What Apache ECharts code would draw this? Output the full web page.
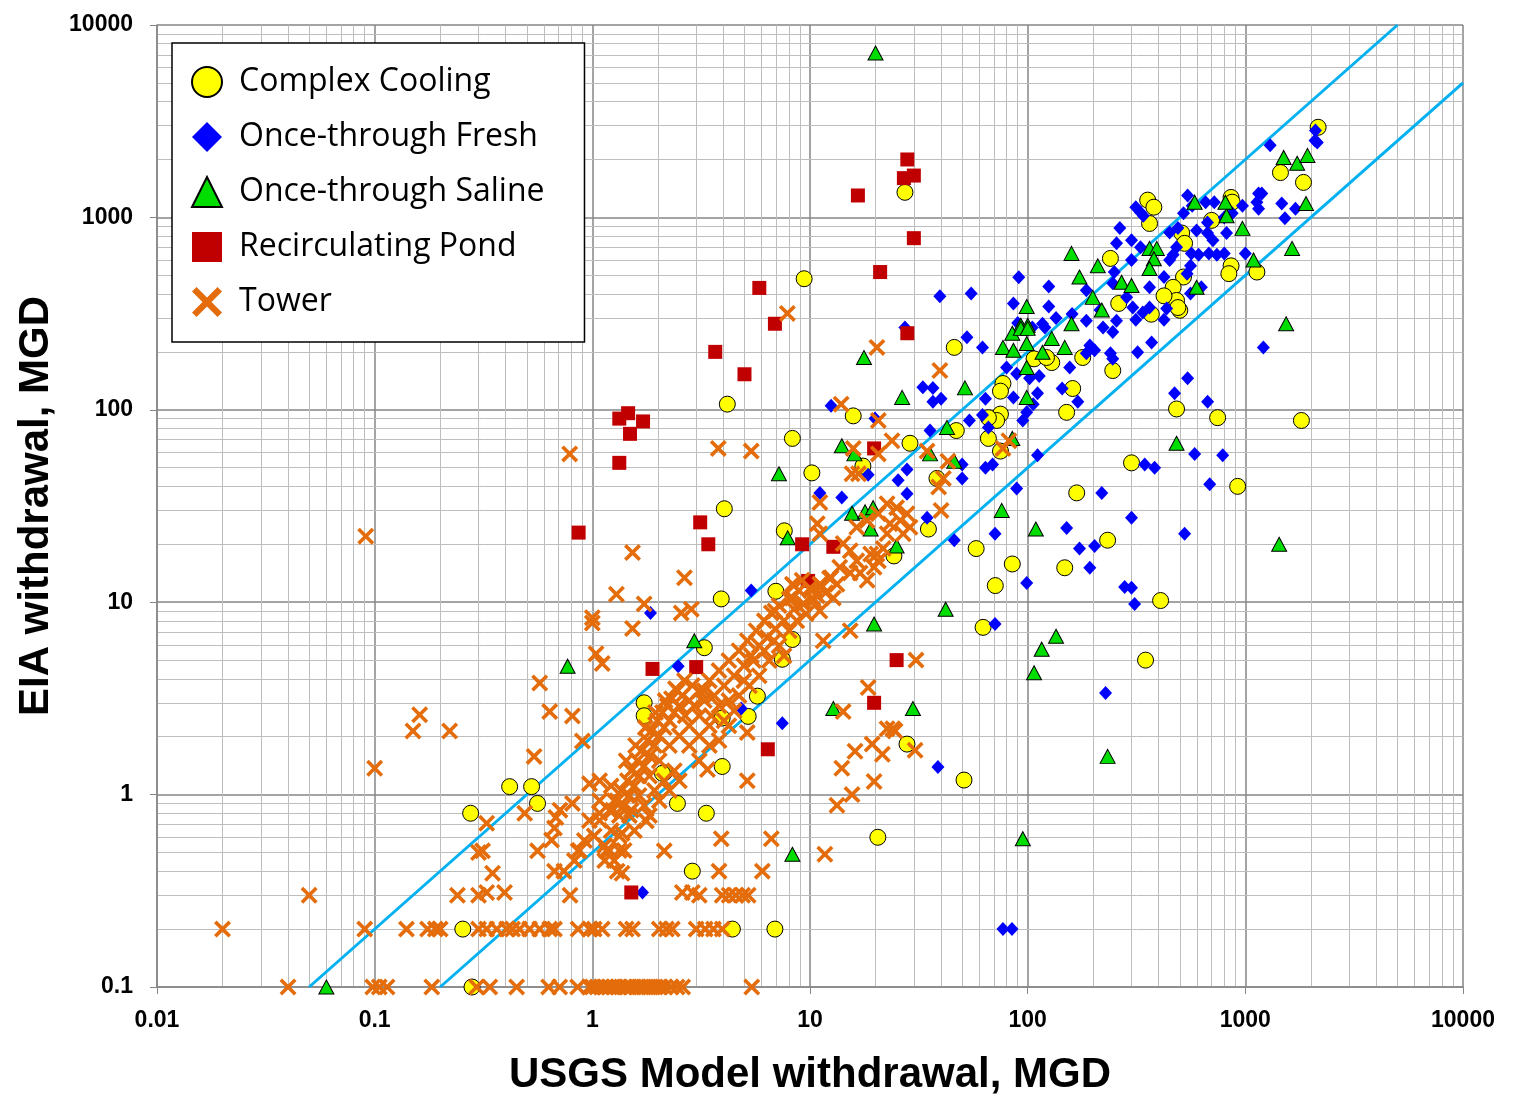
<!DOCTYPE html>
<html><head><meta charset="utf-8">
<script src="https://cdn.jsdelivr.net/npm/echarts@6/dist/echarts.min.js"></script>
<style>html,body{margin:0;padding:0;background:#fff}#c{width:1519px;height:1110px}</style>
</head><body><div id="c"></div>
<script>
// ---- data (x = USGS model withdrawal, y = EIA withdrawal, MGD) ----
const complexCooling = [
[9.4,480],[27.3,1350],[4.17,107],[8.3,71],[4.04,30.6],[7.62,23.5],[3.91,10.4],[6.97,11.4],
[10.2,47],[15.8,93],[17.5,51],[28.8,67],[38.3,44],[46,211],[35,24],[58,19],[85,15.8],[71,12.2],
[168,37],[233,21],[148,15.1],[300,53],[246,160],[66,71],[75,61],[75,95],[72,88],[66,91],[47,78],
[77,137],[129,176],[161,129],[151,97],[179,187],[107,184],[122,187],[75,125],[24.3,17.4],
[240,612],[262,357],[2160,2940],[1450,1710],[1850,1520],[860,1270],[870,1200],[356,1230],[380,1130],
[363,930],[700,965],[510,830],[526,733],[860,560],[840,510],[1130,520],[520,490],[466,433],[483,370],
[423,391],[500,329],[490,340],[370,314],[483,101],[746,91],[1810,88],[922,40],[408,10.2],
[62.4,7.4],[27.9,1.83],[51,1.19],[348,5.0],[8.3,6.4],[7.46,5.05],[3.27,5.8],[5.73,3.25],[3.95,2.5],[5.2,2.55],
[3.95,1.4],[3.34,0.8],[2.88,0.4],[20.5,0.6],[4.4,0.2],[6.9,0.2],[0.417,1.1],[0.526,1.1],[0.56,0.9],
[0.276,0.8],[0.254,0.2],[0.28,0.1],[1.73,3.0],[1.73,2.57],[2.14,1.3],[2.46,0.9],[2.1,1.29]
];
const onceFresh = [
[39.5,389],[55,402],[91,488],[125,437],[125,344],[86,357],[256,733],[186,418],[285,384],[246,455],[186,290],[256,290],[117,280],[27.3,268],
[2100,2830],[2090,2510],[2140,2450],[1300,2370],[1150,1330],[1190,1330],[1130,1200],[1470,1180],[1150,1110],[1520,990],[1700,1110],[970,1150],
[330,1060],[543,1300],[570,1150],[520,1050],[670,940],[657,1200],[720,1200],[800,1000],[870,1050],[820,830],[449,835],[490,880],[670,830],[710,760],[597,855],
[483,700],[466,640],[565,650],[610,640],[680,650],[740,640],[800,650],[1000,650],[560,560],[540,510],[449,600],[423,490],[560,402],[628,433],[363,433],[435,336],[423,294],[363,340],[338,320],[304,340],[314,294],[314,1130],
[300,760],[265,880],[340,1020],[135,300],[160,315],[300,600],[330,700],[250,520],[215,330],
[1210,211],[371,224],[320,199],[543,146],[473,122],[671,110],[585,59],[787,58],[345,52],[383,50],[686,41],[300,27.5],[526,22.7],[300,11.9],[310,9.8],
[52.6,238],[62,211],[33,131],[36.7,130],[40,114],[36.7,110],[12.5,105],[19.9,90],[18.5,46],[11.1,37],[14,35],[27.9,49],[25.4,43],[27.9,36.6],[50,52],[50,44],
[34.5,27.5],[46,21],[70.8,22.7],[99,12.6],[64,50],[69,52],[89,39],[111,58],[219,37],[151,24.3],[173,19],[203,19.6],[193,15.1],[279,12],
[62,94],[66,81],[54,88],[35.6,78],[64,114],[86,116],[99,97],[95,88],[111,122],[106,107],[113,150],[156,166],[144,129],[170,110],[240,197],[246,184],[193,216],[203,204],[186,197],[222,268],[246,254],[89,154],[80,166],[102,146],[105,268],[120,268],[90,283],
[1.85,8.8],[5.37,11.5],[2.48,4.65],[4.83,2.8],[7.46,2.35],[1.7,0.31],[70.8,7.7],[38.7,1.39],[228,3.37],[77,0.2],[84.7,0.2]
];
const onceSaline = [
[20,7150],[159,650],[210,560],[173,490],[99,344],[199,384],[219,330],[93,275],[100,275],[159,280],[270,460],
[1500,2050],[1730,1910],[1930,2100],[1900,1180],[1640,690],[1540,280],[970,877],[820,1020],[810,1200],[585,1200],[1090,600],[597,433],[363,690],[392,690],[380,610],[363,543],[300,443],
[85,250],[93,265],[100,265],[77,211],[86,204],[99,221],[117,199],[148,211],[129,235],[99,166],[99,116],[51.5,130],[26.5,116],[17.7,187],[85,71],[42.6,81],[35.6,59],[46,54],[14,65],[16,59],[76,30],[109,24],[42,9.2],
[15.6,29],[17.9,29.5],[19.5,31],[19,24],[25,19.6],[7.2,46.5],[7.9,21.6],
[135,6.65],[116,5.7],[107,4.3],[29.7,2.8],[233,1.58],[95,0.59],[19.7,7.7],[12.8,2.8],[8.3,0.49],[2.94,6.3],[0.77,4.65],[0.06,0.1],[483,67],[1430,20]
];
const recircPond = [
[16.6,1300],[28,2000],[27,1600],[30,1650],[30,780],[21,520],[28,250],[5.85,430],[6.9,280],[3.67,200],[5.0,153],
[1.33,90],[1.46,96],[1.71,87],[1.49,75],[1.33,53],[0.865,23],[3.13,26],[3.41,20],
[19.7,63],[9.2,20],[12.8,19.4],[9.8,12.9],[1.89,4.5],[1.51,0.31],[25,5.0],[19.7,3.0],[6.4,1.72],[3.0,4.6]
];
const tower = [
[0.02,0.2],[0.04,0.1],[0.05,0.3],[0.091,22],[0.1,1.37],[0.09,0.2],[0.098,0.1],[0.105,0.1],[0.114,0.1],
[0.14,0.2],[0.175,0.2],[0.19,0.2],[0.2,0.2],[0.183,0.1],[0.15,2.14],[0.161,2.6],[0.221,2.14],
[0.24,0.3],[0.3,0.3],[0.3,0.5],[0.327,0.71],[0.313,0.51],[0.348,0.39],[0.327,0.31],[0.395,0.31],
[0.30,0.2],[0.327,0.2],[0.364,0.2],[0.404,0.2],[0.43,0.2],[0.463,0.2],[0.515,0.2],[0.573,0.2],[0.637,0.2],[0.67,0.2],[0.86,0.2],[0.97,0.2],[1.02,0.2],[1.11,0.2],[1.43,0.2],[1.53,0.2],[2.03,0.2],[2.19,0.2],[2.33,0.2],[3.0,0.2],[3.3,0.2],[3.6,0.2],[3.95,0.2],
[0.294,0.1],[0.338,0.1],[0.449,0.1],[0.63,0.1],[0.708,0.1],[0.856,0.1],[0.97,0.1],[1.0,0.1],[1.05,0.1],[1.1,0.1],[1.15,0.1],[1.2,0.1],[1.26,0.1],[1.32,0.1],[1.4,0.1],[1.45,0.1],[1.52,0.1],[1.6,0.1],[1.68,0.1],[1.76,0.1],[1.85,0.1],[1.95,0.1],[2.05,0.1],[2.15,0.1],[2.3,0.1],[2.45,0.1],[2.6,0.1],[5.4,0.1],
[3.1,0.3],[3.95,0.3],[4.25,0.3],[4.56,0.3],[4.9,0.3],[5.2,0.3],[2.59,0.31],[2.88,0.31],[0.79,0.3],
[0.573,3.8],[0.637,2.7],[0.81,2.56],[0.9,1.9],[0.54,1.58],[0.489,0.8],[0.56,0.51],[0.65,0.58],[0.67,0.67],[0.68,0.76],[0.71,0.83],[0.81,0.9],[0.86,0.51],[0.67,0.4],[0.74,0.4],[1.16,0.51],[1.37,0.63],[1.3,0.4],[1.37,0.39],[2.14,0.51],[1.77,0.73],[1.51,0.83],[0.97,1.14],[1.08,0.8],[1.24,0.83],
[1.0,7.8],[1.53,7.3],[1.04,5.4],[1.11,4.8],[1.0,8.3],[1.29,11],[1.73,9.8],[2.56,8.8],[2.85,9.2],[2.65,13.4],[1.53,18.1],[6.9,9.0],[8.3,12.4],[8.3,10.5],[0.787,59],[3.79,63],[5.37,61],[7.87,317],[20.3,211],[39.5,160],[13.9,107],
[20.6,88],[23.8,69],[15.8,63],[20.6,59],[34.5,61],[16.7,46.5],[15.6,46.5],[11.1,33],[41,44],[39,39.7],[43,54],[40,30],[77,63],[82,69],
[10.8,25.6],[11.1,22.7],[14.2,20.2],[15.3,18.5],[16.4,16.4],[17,14.2],[18.3,13],[19.7,15.2],[20.3,17.8],[21.7,19],[22.6,22.7],[23.3,25.6],[26,26.6],[27.9,28.8],[25,31],[22.6,32.5],[20.6,28.8],[18.3,26.6],[16.4,24.5],[26.8,22.7],[28.8,24.5],[19,17.8],[20.6,16.4],[13.7,15.2],[12.5,13.4],[11.1,12.4],[10,11.8],[10.3,10.5],[13.3,12.4],[15.3,14.2],[9.3,9.8],[11.1,9.0],[12.8,10.5],
[15.3,7.1],[11.5,6.3],[18.5,3.6],[14.2,2.7],[22.6,2.2],[24,2.2],[19.3,1.83],[21.5,1.62],[16.1,1.68],[14,1.37],[19.7,1.17],[15.6,1.0],[13.3,0.88],[30.7,5.0],[24.6,2.14],[30.4,1.7],[11.7,0.49],
[5.15,2.1],[5.15,1.18],[3.38,1.35],[3.91,0.59],[6.64,0.59],[3.82,0.4],[6.04,0.4],
[3.10,3.47],[3.27,3.08],[3.45,3.91],[3.63,3.27],[3.82,4.41],[4.03,3.68],[4.24,4.97],[4.48,4.15],[4.72,5.6],[4.97,4.68],[5.15,6.3],[5.38,5.27],[5.66,7.1],[5.84,5.94],[6.17,8.0],[6.36,6.55],[6.64,8.8],[6.92,7.28],[7.21,9.6],[7.6,8.0],[8.03,10.4],[8.43,9.2],[8.9,11.5],[9.36,9.8],
[6.50,4.97],[5.84,4.15],[7.21,5.94],[8.03,7.1],[8.7,8.0],[9.6,8.7],[10.4,10.2],[5.27,3.68],[4.72,3.27],[4.48,2.73],[4.03,2.42],[7.6,5.27],[10.1,11.5],[10.8,10.8],[11.3,12.2],[11.8,11.2],[12.3,13.3],[8.43,12.2],[9.2,13.0],[6.83,6.3],[6.17,5.6],[5.5,4.97],[4.97,3.91],[4.24,3.08],[3.82,2.9],[3.52,2.57],
[1.02,0.61],[1.08,0.733],[1.14,0.543],[1.20,0.826],[1.22,0.65],[1.26,0.93],[1.33,0.778],[1.36,1.05],[1.40,0.877],[1.45,1.18],[1.48,0.99],[1.51,1.33],[1.56,1.11],[1.61,1.50],[1.64,1.25],[1.68,1.69],[1.73,1.41],[1.79,1.91],[1.83,1.59],[1.87,2.15],[1.93,1.80],[1.99,2.42],[2.03,2.02],[2.10,2.67],[2.14,2.23],[2.21,2.90],[2.26,2.42],[2.31,3.15],[2.38,2.67],[2.46,3.47],[2.51,2.90],[2.59,3.27],[2.67,2.57],[2.79,3.08],[2.88,3.69],
[1.83,1.25],[1.64,0.99],[1.48,0.778],[1.33,0.61],[1.20,0.512],[2.03,1.50],[2.26,1.80],[2.51,2.02],[2.79,2.28],[3.10,2.57],[1.14,0.454],[1.26,0.454],[1.40,0.512],[1.73,0.877],[1.93,1.05],[2.14,1.18],[2.38,1.33],[1.08,0.93],[0.969,0.733],[0.919,0.577],[0.872,0.512],[0.827,0.454],[1.08,1.18],
[1.22,1.11],[1.30,0.93],[1.43,1.50],[1.58,1.80],[1.75,2.23],[1.95,2.67],[2.16,3.08],[2.41,3.55],[2.65,3.91],[2.94,2.90],[3.27,3.47],[2.79,1.80],[3.10,2.02],[3.45,2.28],[1.33,0.512],[1.56,0.65],[1.83,0.778],[2.03,0.93],[2.26,1.05],[2.51,1.18],[3.10,1.50],[3.45,1.80],[3.82,1.91],[4.24,2.28]
];
// reference lines: EIA = 2 x USGS and EIA = 0.5 x USGS
const upperLine = [[0.05,0.1],[5000,10000]];
const lowerLine = [[0.2,0.1],[10000,5000]];
// gridline values
const xDecades = [0.01,0.1,1,10,100,1000];
const yDecades = [0.1,1,10,100,1000];
const minorSteps = [2,3,4,5,6,7,8,9];

const xMinor = [], yMinor = [];
xDecades.forEach(d => minorSteps.forEach(s => xMinor.push(+(d*s).toPrecision(3))));
yDecades.forEach(d => minorSteps.forEach(s => yMinor.push(+(d*s).toPrecision(3))));

const X_PATH = 'path://M0,3 L3,0 L10,7 L17,0 L20,3 L13,10 L20,17 L17,20 L10,13 L3,20 L0,17 L7,10 Z';
const fmt = v => String(+Number(v).toPrecision(2));
const chart = echarts.init(document.getElementById('c'), null, {renderer:'canvas'});
const tickFont = {fontFamily:'Liberation Sans', fontWeight:'bold', fontSize:23, color:'#000', formatter:fmt};
chart.setOption({
  animation:false,
  backgroundColor:'#fff',
  grid:{left:157, top:25, width:1306, height:962, containLabel:false},
  xAxis:{type:'log', logBase:10, min:0.01, max:10000,
    name:'USGS Model withdrawal, MGD', nameLocation:'middle', nameGap:67,
    nameTextStyle:{fontFamily:'Liberation Sans', fontWeight:'bold', fontSize:42, color:'#000'},
    axisLine:{show:true, lineStyle:{color:'#868686', width:1.5}},
    axisTick:{show:true, length:7, lineStyle:{color:'#868686'}},
    axisLabel:Object.assign({margin:22}, tickFont),
    splitLine:{show:true, lineStyle:{color:'#868686', width:1.5}}},
  yAxis:{type:'log', logBase:10, min:0.1, max:10000,
    name:'EIA withdrawal, MGD', nameLocation:'middle', nameGap:100, nameRotate:90,
    nameTextStyle:{fontFamily:'Liberation Sans', fontWeight:'bold', fontSize:42, color:'#000'},
    axisLine:{show:true, lineStyle:{color:'#868686', width:1.5}},
    axisTick:{show:true, length:7, lineStyle:{color:'#868686'}},
    axisLabel:Object.assign({margin:24}, tickFont),
    splitLine:{show:true, lineStyle:{color:'#868686', width:1.5}}},
  legend:{orient:'vertical', left:172, top:43, padding:[23,40,24,19], itemGap:23,
    itemWidth:30, itemHeight:30, borderColor:'#000', borderWidth:1.5, backgroundColor:'#fff',
    textStyle:{fontFamily:'Open Sans', fontSize:32, lineHeight:30, color:'#000', padding:[0,0,0,12]},
    data:['Complex Cooling','Once-through Fresh','Once-through Saline','Recirculating Pond','Tower']},
  series:[
    {name:'grid', type:'line', data:[], z:0, silent:true,
     markLine:{silent:true, symbol:['none','none'], label:{show:false}, z:0, animation:false,
       lineStyle:{color:'#BDBDBD', width:1, type:'solid'},
       data: xMinor.map(v=>({xAxis:v})).concat(yMinor.map(v=>({yAxis:v})))}},
    {name:'upper', type:'line', data:upperLine, showSymbol:false, z:1, silent:true,
     lineStyle:{color:'#00B0F0', width:3}},
    {name:'lower', type:'line', data:lowerLine, showSymbol:false, z:1, silent:true,
     lineStyle:{color:'#00B0F0', width:3}},
    {name:'Complex Cooling', type:'scatter', data:complexCooling, symbol:'circle', symbolSize:16, z:3,
     itemStyle:{color:'#FFFF00', borderColor:'#000', borderWidth:1, opacity:1}},
    {name:'Once-through Fresh', type:'scatter', data:onceFresh, symbol:'diamond', symbolSize:[13,14], z:3,
     itemStyle:{color:'#0000FF', opacity:1}},
    {name:'Once-through Saline', type:'scatter', data:onceSaline, symbol:'triangle', symbolSize:[15,14], z:3,
     itemStyle:{color:'#00DD00', borderColor:'#000', borderWidth:1, opacity:1}},
    {name:'Recirculating Pond', type:'scatter', data:recircPond, symbol:'rect', symbolSize:14, z:3,
     itemStyle:{color:'#C00000', opacity:1}},
    {name:'Tower', type:'scatter', data:tower, symbol:X_PATH, symbolSize:17, z:3,
     itemStyle:{color:'#E46C0A', opacity:1}}
  ]
});
</script></body></html>
